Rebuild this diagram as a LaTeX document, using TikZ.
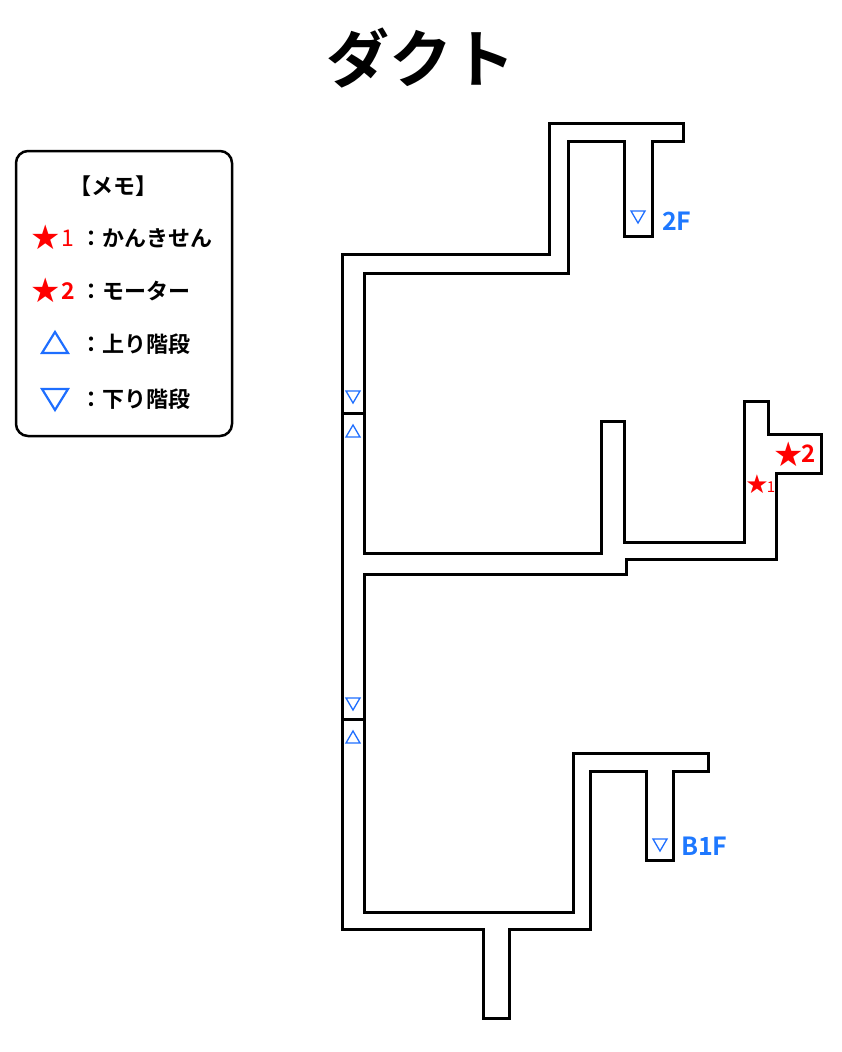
\documentclass[tikz,border=0pt]{standalone}
\usepackage{fontspec}
\setmainfont{Noto Sans CJK JP}[BoldFont={Noto Sans CJK JP Bold}]
\newfontfamily\sym{DejaVu Sans}
\begin{document}
\begin{tikzpicture}[x=1pt,y=-1pt,
  wall/.style={line width=3pt,line join=miter},
  lbl/.style={font=\bfseries\fontsize{22}{22}\selectfont,inner sep=0pt},
  star/.style={text=red,font=\sym\fontsize{#1}{#1}\selectfont,inner sep=0pt},
  blu/.style={draw={rgb,255:red,30;green,110;blue,255},line width=1.3pt,line join=miter},
  flr/.style={font=\bfseries\fontsize{25}{25}\selectfont,text={rgb,255:red,30;green,120;blue,255},inner sep=0pt}]
\useasboundingbox (0,0) rectangle (842,1052);
\node[font=\bfseries\fontsize{63}{63}\selectfont] (title) at (421,58) {ダクト};
% duct outline
\draw[wall] (342,254) -- (549,254) -- (549,123) -- (683,123) -- (683,141) -- (652,141) -- (652,236) -- (624,236) -- (624,141) -- (568,141) -- (568,273) -- (364,273) -- (364,553) -- (601,553) -- (601,421) -- (624,421) -- (624,542) -- (744,542) -- (744,401) -- (768,401) -- (768,434) -- (821,434) -- (821,473) -- (776,473) -- (776,559) -- (626,559) -- (626,574) -- (364,574) -- (364,912) -- (573,912) -- (573,753) -- (708,753) -- (708,771) -- (673,771) -- (673,860) -- (646,860) -- (646,771) -- (590,771) -- (590,929) -- (509,929) -- (509,1018) -- (483,1018) -- (483,929) -- (342,929) -- cycle;
\draw[wall] (342,413) -- (364,413);
\draw[wall] (342,719) -- (364,719);
% stair triangles in corridor
\foreach \cx/\cy in {353/397, 353/704, 638/217, 660/845}
  \draw[blu] (\cx-7,\cy-6) -- (\cx+7,\cy-6) -- (\cx,\cy+6) -- cycle;
\foreach \cx/\cy in {353/431, 353/737}
  \draw[blu] (\cx-7,\cy+6) -- (\cx+7,\cy+6) -- (\cx,\cy-6) -- cycle;
\node[flr,anchor=west] (f2) at (662,221) {2F};
\node[flr,anchor=west] (fb1) at (681,846) {B1F};
% stars
\node[star=26] (s1) at (757,484) {★};
\node[text=red,font=\fontsize{15}{15}\selectfont,inner sep=0pt] (s1n) at (771,487) {1};
\node[star=34] (s2) at (789,454) {★};
\node[text=red,font=\bfseries\fontsize{24}{24}\selectfont,inner sep=0pt] (s2n) at (809,454) {2};
% legend
\draw[line width=2.5pt,rounded corners=12pt] (16,151) rectangle (232,436);
\node[lbl] (memo) at (113,186) {【メモ】};
\node[star=34] (l1s) at (46,237) {★};
\node[text=red,font=\fontsize{23}{23}\selectfont,inner sep=0pt] (l1n) at (68,238) {1};
\node[star=34] (l2s) at (46,290) {★};
\node[text=red,font=\bfseries\fontsize{23}{23}\selectfont,inner sep=0pt] (l2n) at (68,291) {2};
\draw[blu,line width=2.2pt] (42,353) -- (68,353) -- (55,332) -- cycle;
\draw[blu,line width=2.2pt] (42,389) -- (68,389) -- (55,410) -- cycle;
\node[lbl,anchor=west] (t1) at (80,238) {：かんきせん};
\node[lbl,anchor=west] (t2) at (80,291) {：モーター};
\node[lbl,anchor=west] (t3) at (80,344) {：上り階段};
\node[lbl,anchor=west] (t4) at (80,399) {：下り階段};
\end{tikzpicture}
\end{document}
